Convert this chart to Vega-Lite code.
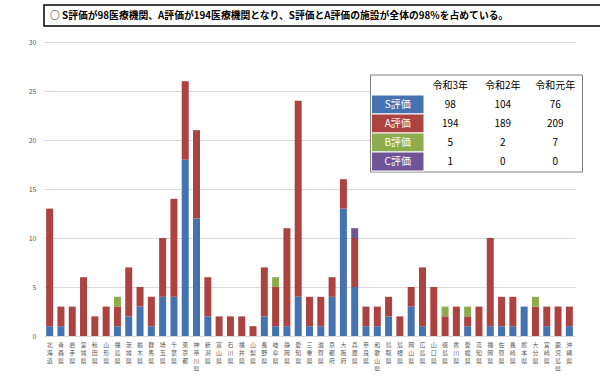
{
  "$schema": "https://vega.github.io/schema/vega-lite/v6.json",
  "padding": {"left": 15, "top": 4, "right": 7, "bottom": 0},
  "spacing": 11,
  "config": {
    "font": "Noto Sans CJK JP",
    "view": {"stroke": null},
    "concat": {"spacing": 11}
  },
  "datasets": {
    "bars": [
      {"pref": "北海道", "rating": "S評価", "count": 1}, {"pref": "北海道", "rating": "A評価", "count": 12},
      {"pref": "青森県", "rating": "S評価", "count": 1}, {"pref": "青森県", "rating": "A評価", "count": 2},
      {"pref": "岩手県", "rating": "A評価", "count": 3},
      {"pref": "宮城県", "rating": "A評価", "count": 6},
      {"pref": "秋田県", "rating": "A評価", "count": 2},
      {"pref": "山形県", "rating": "A評価", "count": 3},
      {"pref": "福島県", "rating": "S評価", "count": 1}, {"pref": "福島県", "rating": "A評価", "count": 2}, {"pref": "福島県", "rating": "B評価", "count": 1},
      {"pref": "茨城県", "rating": "S評価", "count": 2}, {"pref": "茨城県", "rating": "A評価", "count": 5},
      {"pref": "栃木県", "rating": "S評価", "count": 3}, {"pref": "栃木県", "rating": "A評価", "count": 2},
      {"pref": "群馬県", "rating": "S評価", "count": 1}, {"pref": "群馬県", "rating": "A評価", "count": 3},
      {"pref": "埼玉県", "rating": "S評価", "count": 4}, {"pref": "埼玉県", "rating": "A評価", "count": 6},
      {"pref": "千葉県", "rating": "S評価", "count": 4}, {"pref": "千葉県", "rating": "A評価", "count": 10},
      {"pref": "東京都", "rating": "S評価", "count": 18}, {"pref": "東京都", "rating": "A評価", "count": 8},
      {"pref": "神奈川県", "rating": "S評価", "count": 12}, {"pref": "神奈川県", "rating": "A評価", "count": 9},
      {"pref": "新潟県", "rating": "S評価", "count": 2}, {"pref": "新潟県", "rating": "A評価", "count": 4},
      {"pref": "富山県", "rating": "A評価", "count": 2},
      {"pref": "石川県", "rating": "A評価", "count": 2},
      {"pref": "福井県", "rating": "A評価", "count": 2},
      {"pref": "山梨県", "rating": "A評価", "count": 1},
      {"pref": "長野県", "rating": "S評価", "count": 2}, {"pref": "長野県", "rating": "A評価", "count": 5},
      {"pref": "岐阜県", "rating": "S評価", "count": 1}, {"pref": "岐阜県", "rating": "A評価", "count": 4}, {"pref": "岐阜県", "rating": "B評価", "count": 1},
      {"pref": "静岡県", "rating": "S評価", "count": 1}, {"pref": "静岡県", "rating": "A評価", "count": 10},
      {"pref": "愛知県", "rating": "S評価", "count": 4}, {"pref": "愛知県", "rating": "A評価", "count": 20},
      {"pref": "三重県", "rating": "S評価", "count": 1}, {"pref": "三重県", "rating": "A評価", "count": 3},
      {"pref": "滋賀県", "rating": "S評価", "count": 1}, {"pref": "滋賀県", "rating": "A評価", "count": 3},
      {"pref": "京都府", "rating": "S評価", "count": 4}, {"pref": "京都府", "rating": "A評価", "count": 2},
      {"pref": "大阪府", "rating": "S評価", "count": 13}, {"pref": "大阪府", "rating": "A評価", "count": 3},
      {"pref": "兵庫県", "rating": "S評価", "count": 5}, {"pref": "兵庫県", "rating": "A評価", "count": 5}, {"pref": "兵庫県", "rating": "C評価", "count": 1},
      {"pref": "奈良県", "rating": "S評価", "count": 1}, {"pref": "奈良県", "rating": "A評価", "count": 2},
      {"pref": "和歌山県", "rating": "S評価", "count": 1}, {"pref": "和歌山県", "rating": "A評価", "count": 2},
      {"pref": "鳥取県", "rating": "S評価", "count": 2}, {"pref": "鳥取県", "rating": "A評価", "count": 2},
      {"pref": "島根県", "rating": "A評価", "count": 2},
      {"pref": "岡山県", "rating": "S評価", "count": 3}, {"pref": "岡山県", "rating": "A評価", "count": 2},
      {"pref": "広島県", "rating": "S評価", "count": 1}, {"pref": "広島県", "rating": "A評価", "count": 6},
      {"pref": "山口県", "rating": "A評価", "count": 5},
      {"pref": "徳島県", "rating": "A評価", "count": 2}, {"pref": "徳島県", "rating": "B評価", "count": 1},
      {"pref": "香川県", "rating": "A評価", "count": 3},
      {"pref": "愛媛県", "rating": "S評価", "count": 1}, {"pref": "愛媛県", "rating": "A評価", "count": 1}, {"pref": "愛媛県", "rating": "B評価", "count": 1},
      {"pref": "高知県", "rating": "A評価", "count": 3},
      {"pref": "福岡県", "rating": "S評価", "count": 1}, {"pref": "福岡県", "rating": "A評価", "count": 9},
      {"pref": "佐賀県", "rating": "S評価", "count": 1}, {"pref": "佐賀県", "rating": "A評価", "count": 3},
      {"pref": "長崎県", "rating": "S評価", "count": 1}, {"pref": "長崎県", "rating": "A評価", "count": 3},
      {"pref": "熊本県", "rating": "S評価", "count": 3},
      {"pref": "大分県", "rating": "A評価", "count": 3}, {"pref": "大分県", "rating": "B評価", "count": 1},
      {"pref": "宮崎県", "rating": "S評価", "count": 1}, {"pref": "宮崎県", "rating": "A評価", "count": 2},
      {"pref": "鹿児島県", "rating": "A評価", "count": 3},
      {"pref": "沖縄県", "rating": "S評価", "count": 1}, {"pref": "沖縄県", "rating": "A評価", "count": 2}
    ],
    "table": [
      {"rating": "header", "col": "令和3年", "text": "令和3年"},
      {"rating": "header", "col": "令和2年", "text": "令和2年"},
      {"rating": "header", "col": "令和元年", "text": "令和元年"},
      {"rating": "S評価", "col": "label", "text": "S評価"},
      {"rating": "S評価", "col": "令和3年", "text": "98"},
      {"rating": "S評価", "col": "令和2年", "text": "104"},
      {"rating": "S評価", "col": "令和元年", "text": "76"},
      {"rating": "A評価", "col": "label", "text": "A評価"},
      {"rating": "A評価", "col": "令和3年", "text": "194"},
      {"rating": "A評価", "col": "令和2年", "text": "189"},
      {"rating": "A評価", "col": "令和元年", "text": "209"},
      {"rating": "B評価", "col": "label", "text": "B評価"},
      {"rating": "B評価", "col": "令和3年", "text": "5"},
      {"rating": "B評価", "col": "令和2年", "text": "2"},
      {"rating": "B評価", "col": "令和元年", "text": "7"},
      {"rating": "C評価", "col": "label", "text": "C評価"},
      {"rating": "C評価", "col": "令和3年", "text": "1"},
      {"rating": "C評価", "col": "令和2年", "text": "0"},
      {"rating": "C評価", "col": "令和元年", "text": "0"}
    ],
    "headline": [
      {"text": "○  S評価が98医療機関、A評価が194医療機関となり、S評価とA評価の施設が全体の98%を占めている。"}
    ]
  },
  "vconcat": [
    {
      "width": 578,
      "height": 21,
      "view": {"stroke": "black", "strokeWidth": 1.5},
      "data": {"name": "headline"},
      "mark": {"type": "text", "align": "left", "baseline": "middle", "fontSize": 9.8, "fontWeight": "bold", "color": "black", "dx": 6},
      "encoding": {
        "x": {"value": 0},
        "text": {"field": "text"}
      }
    },
    {
      "width": 531,
      "height": 294,
      "resolve": {"scale": {"x": "independent", "y": "independent"}},
      "layer": [
        {
          "data": {"name": "bars"},
          "transform": [
            {"calculate": "indexof(['S評価','A評価','B評価','C評価'], datum.rating)", "as": "stackOrder"}
          ],
          "mark": {"type": "bar"},
          "encoding": {
            "x": {
              "field": "pref", "type": "nominal", "sort": null, "title": null,
              "scale": {"paddingInner": 0.38, "paddingOuter": 0.19},
              "axis": {
                "labelAngle": 0, "labelBaseline": "top", "labelAlign": "center",
                "labelExpr": "split(datum.label, '')",
                "labelFontSize": 6, "labelLineHeight": 8, "labelColor": "#595959",
                "labelPadding": 5, "ticks": false, "domain": false, "labelOverlap": false
              }
            },
            "y": {
              "field": "count", "type": "quantitative", "aggregate": "sum", "stack": "zero", "title": null,
              "scale": {"domain": [0, 30]},
              "axis": {
                "values": [0, 5, 10, 15, 20, 25, 30], "labelFontSize": 7, "labelColor": "#595959",
                "ticks": false, "domain": false, "labelPadding": 8, "gridColor": "#d9d9d9",
                "minExtent": 28.5, "maxExtent": 28.5
              }
            },
            "color": {
              "field": "rating", "type": "nominal", "legend": null,
              "scale": {"domain": ["S評価", "A評価", "B評価", "C評価"], "range": ["#4573b1", "#ad4341", "#8cac4d", "#6f5497"]}
            },
            "order": {"field": "stackOrder", "type": "quantitative"}
          }
        },
        {
          "data": {"values": [{}]},
          "mark": {"type": "rect", "fill": "white", "stroke": "#7f7f7f", "strokeWidth": 1},
          "encoding": {
            "x": {"datum": 0, "type": "quantitative", "scale": {"domain": [0, 1], "range": [326.5, 538.5]}, "axis": null},
            "x2": {"datum": 1},
            "y": {"datum": 0, "type": "quantitative", "scale": {"domain": [0, 1], "range": [33, 130]}, "axis": null},
            "y2": {"datum": 1}
          }
        },
        {
          "data": {"name": "table"},
          "encoding": {
            "x": {"field": "col", "type": "nominal", "axis": null, "sort": null,
              "scale": {"domain": ["label", "令和3年", "令和2年", "令和元年"], "range": [327.5, 537.5], "paddingInner": 0, "paddingOuter": 0}},
            "y": {"field": "rating", "type": "nominal", "axis": null, "sort": null,
              "scale": {"domain": ["header", "S評価", "A評価", "B評価", "C評価"], "range": [34, 129], "paddingInner": 0, "paddingOuter": 0}}
          },
          "layer": [
            {
              "transform": [{"filter": "datum.col === 'label'"}],
              "mark": {"type": "rect", "stroke": "white", "strokeWidth": 1},
              "encoding": {
                "color": {"field": "rating", "type": "nominal", "legend": null}
              }
            },
            {
              "mark": {"type": "text", "fontSize": 10, "baseline": "middle", "align": "center"},
              "encoding": {
                "text": {"field": "text"},
                "color": {"condition": {"test": "datum.col === 'label'", "value": "white"}, "value": "black"},
                "fontWeight": {"condition": {"test": "datum.rating === 'header'", "value": "bold"}, "value": "normal"}
              }
            }
          ]
        }
      ]
    }
  ]
}
